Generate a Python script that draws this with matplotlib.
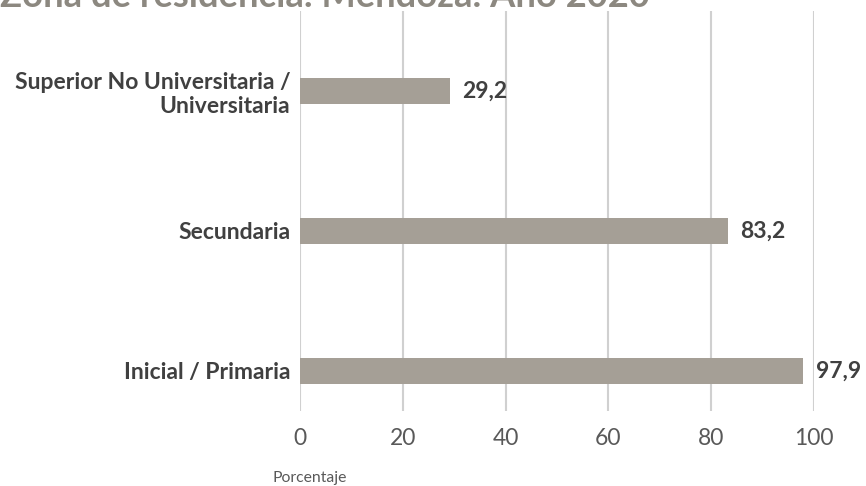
import matplotlib
matplotlib.use("Agg")
import matplotlib.pyplot as plt

plt.rcParams["font.family"] = ["Lato", "DejaVu Sans"]

categorias = ["Inicial / Primaria", "Secundaria", "Superior No Universitaria /\nUniversitaria"]
valores = [97.9, 83.2, 29.2]
etiquetas = ["97,9", "83,2", "29,2"]
ticks_x = [0, 20, 40, 60, 80, 100]

fig = plt.figure(figsize=(8.66, 4.86), dpi=100)
ax = fig.add_axes([300 / 866, 1 - 411 / 486, (814 - 300) / 866, 400 / 486])

pos = list(range(len(categorias)))
ax.barh(pos, valores, height=0.185, color="#a59f96", zorder=3)

for p, v, t in zip(pos, valores, etiquetas):
    ax.text(v + 2.4, p, t, va="center", ha="left", fontsize=16.5,
            fontweight="bold", color="#404040")

ax.set_xlim(0, 100)
ax.set_ylim(-0.286, 2.571)
ax.set_xticks(ticks_x)
ax.set_xticklabels([str(t) for t in ticks_x], fontsize=16.5, color="#595959")
ax.set_yticks(pos)
ax.set_yticklabels(categorias, fontsize=16.5, fontweight="bold", color="#404040",
                   ha="right")
ax.tick_params(axis="y", length=0, pad=7)
ax.tick_params(axis="x", length=0, pad=12)
ax.grid(axis="x", color="#d0d0d0", linewidth=1.5, zorder=0)
for s in ax.spines.values():
    s.set_visible(False)

fig.text(273 / 866, 1 - 482 / 486, "Porcentaje", fontsize=11.3, color="#595959",
         ha="left", va="baseline")

fig.text(650 / 866, 1 - 7 / 486, "Zona de residencia. Mendoza. Año 2020",
         fontsize=26.2, fontweight="bold", color="#8c8880", ha="right", va="baseline")

fig.savefig("out.png", dpi=100)
